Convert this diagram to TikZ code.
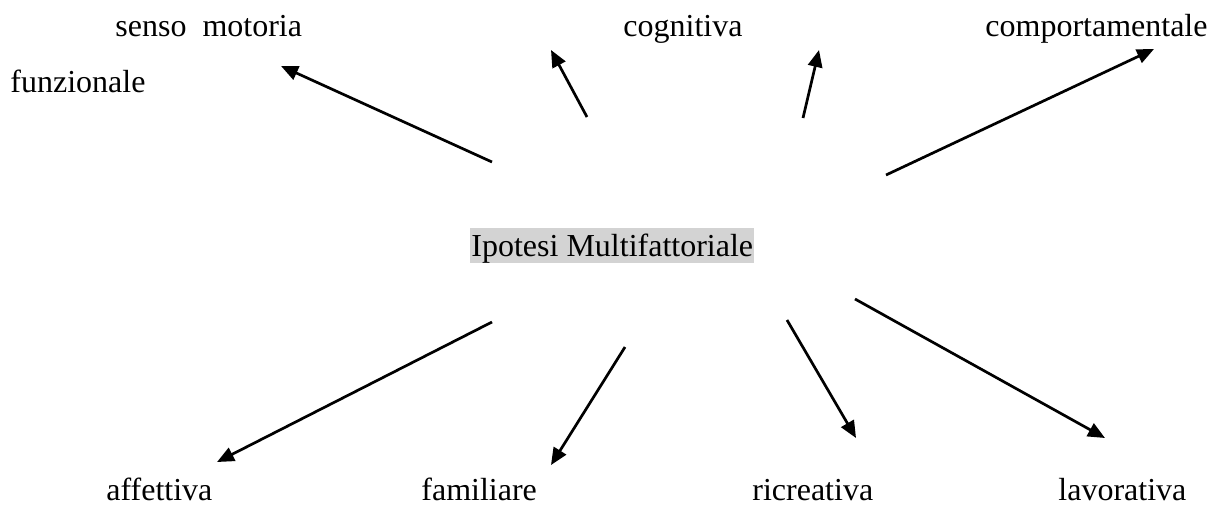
\documentclass[tikz,border=0pt]{standalone}
\usepackage{fontspec}
\setmainfont{Liberation Serif}
\usetikzlibrary{arrows.meta}
\definecolor{hl}{RGB}{211,211,211}
\tikzset{
  lbl/.style={inner sep=0pt, anchor=base west, font=\fontsize{16pt}{19pt}\selectfont},
  arr/.style={line width=1.35pt, -{Triangle[length=8.5pt,width=7.2pt]}}
}
\begin{document}
\begin{tikzpicture}[x={(0.5pt,0)}, y={(0,-0.5pt)}]
\useasboundingbox (0,0) rectangle (1225,505);
% labels
\node[lbl] (sm) at (115,36) {senso\ \ motoria};
\node[lbl] (fz) at (10,92) {funzionale};
\node[lbl] (cog) at (623,36) {cognitiva};
\node[lbl] (comp) at (985,36) {comportamentale};
\node[lbl, fill=hl, inner xsep=0.5pt, text height=14.2pt, text depth=3.6pt] (ctr) at (470,256) {Ipotesi Multifattoriale};
\node[lbl] (aff) at (106,500) {affettiva};
\node[lbl] (fam) at (421,500) {familiare};
\node[lbl] (ric) at (752,500) {ricreativa};
\node[lbl] (lav) at (1058,500) {lavorativa};
% arrow ends
\coordinate (t1) at (492,162); \coordinate (h1) at (281,66);
\coordinate (t2) at (587,117); \coordinate (h2) at (551,50);
\coordinate (t3) at (803,118); \coordinate (h3) at (819,50);
\coordinate (t4) at (886,175); \coordinate (h4) at (1154,49);
\coordinate (t5) at (492,322); \coordinate (h5) at (217,462);
\coordinate (t6) at (625,347); \coordinate (h6) at (551,465);
\coordinate (t7) at (787,320); \coordinate (h7) at (856,438);
\coordinate (t8) at (855,299); \coordinate (h8) at (1105,438);
\draw[arr] (t1) -- (h1);
\draw[arr] (t2) -- (h2);
\draw[arr] (t3) -- (h3);
\draw[arr] (t4) -- (h4);
\draw[arr] (t5) -- (h5);
\draw[arr] (t6) -- (h6);
\draw[arr] (t7) -- (h7);
\draw[arr] (t8) -- (h8);
\end{tikzpicture}
\end{document}
